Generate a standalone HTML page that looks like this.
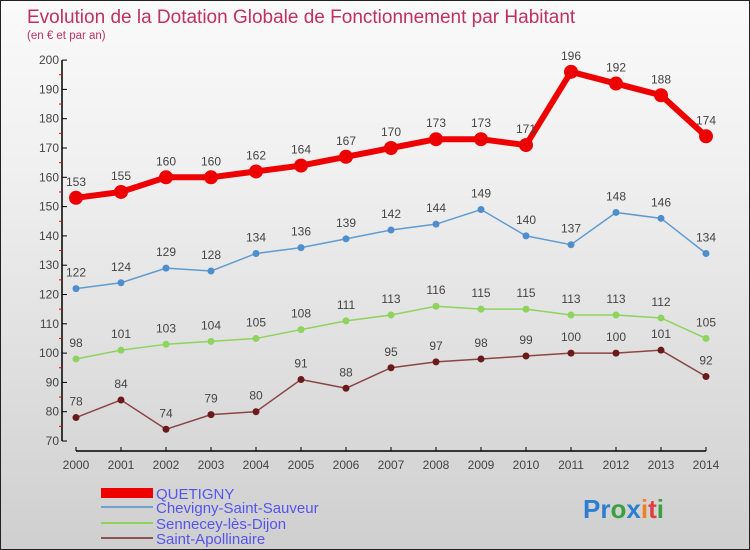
<!DOCTYPE html>
<html><head><meta charset="utf-8"><style>
html,body{margin:0;padding:0}
body{width:750px;height:550px;overflow:hidden;font-family:"Liberation Sans",sans-serif}
#wrap{position:relative;width:748px;height:548px;border:1px solid #222;background:linear-gradient(#fafafa,#f0f0f0 30%,#cfcfcf)}
</style></head><body>
<div id="wrap">
<svg id="c" width="748" height="548" style="position:absolute;left:0;top:0">
<text x="26" y="22" font-size="19" fill="#c03060">Evolution de la Dotation Globale de Fonctionnement par Habitant</text>
<text x="26" y="38" font-size="11.5" fill="#c03060">(en € et par an)</text>
<g id="axes"></g><g id="series"></g>
<g>
<rect x="100" y="487" width="52" height="10" fill="#e00"/>
<text x="155" y="498" font-size="15" fill="#5555ee">QUETIGNY</text>
<line x1="100" y1="506" x2="152" y2="506" stroke="#6fa3cf" stroke-width="2"/>
<text x="155" y="512" font-size="15" fill="#5555ee">Chevigny-Saint-Sauveur</text>
<line x1="100" y1="522" x2="152" y2="522" stroke="#8fd35f" stroke-width="2"/>
<text x="155" y="528" font-size="15" fill="#5555ee">Sennecey-lès-Dijon</text>
<line x1="100" y1="537" x2="152" y2="537" stroke="#8b5555" stroke-width="2"/>
<text x="155" y="543" font-size="15" fill="#5555ee">Saint-Apollinaire</text>
</g>
<text x="582" y="517" font-size="26" font-weight="bold"><tspan fill="#2a7fd0">Pr</tspan><tspan fill="#3aa040">o</tspan><tspan fill="#2a7fd0">x</tspan><tspan fill="#f08020">i</tspan><tspan fill="#e04040">t</tspan><tspan fill="#3aa040">i</tspan></text>
</svg>
</div>
<script>
const years=[2000,2001,2002,2003,2004,2005,2006,2007,2008,2009,2010,2011,2012,2013,2014];
const quetigny=[153,155,160,160,162,164,167,170,173,173,171,196,192,188,174];
const chevigny=[122,124,129,128,134,136,139,142,144,149,140,137,148,146,134];
const sennecey=[98,101,103,104,105,108,111,113,116,115,115,113,113,112,105];
const apollinaire=[78,84,74,79,80,91,88,95,97,98,99,100,100,101,92];
const yTicks=[70,80,90,100,110,120,130,140,150,160,170,180,190,200];
const NS="http://www.w3.org/2000/svg";
const x=i=>75+i*45;
const y=v=>440-(v-70)*2.93;
function mk(t,a,p){const e=document.createElementNS(NS,t);for(const k in a)e.setAttribute(k,a[k]);p.appendChild(e);return e;}
const ax=document.getElementById('axes');
let yl=mk('line',{x1:61,y1:y(200),x2:61,y2:440,stroke:'#000','stroke-width':1.5},ax);


let xl=mk('line',{x1:75,y1:450,x2:705,y2:450,stroke:'#000','stroke-width':1.5},ax);


yTicks.forEach(v=>{
  mk('line',{x1:61,y1:y(v),x2:66,y2:y(v),stroke:'#000'},ax);
  if(v<200)mk('line',{x1:58,y1:y(v+5),x2:61,y2:y(v+5),stroke:'#e00'},ax);
  const t=mk('text',{x:58,y:y(v)+4,'font-size':12,fill:'#444','text-anchor':'end'},ax);
  t.textContent=v;
  
  
});
years.forEach((yr,i)=>{
  mk('line',{x1:x(i),y1:446,x2:x(i),y2:450,stroke:'#000'},ax);
  const t=mk('text',{x:x(i),y:468,'font-size':12,fill:'#444','text-anchor':'middle'},ax);
  t.textContent=yr;
  
  
});
const sg=document.getElementById('series');
function series(data,name,color,lw,r,dot){
  const g=mk('g',{},sg);
  
  
  const p=mk('polyline',{points:data.map((v,i)=>x(i)+','+y(v)).join(' '),fill:'none',stroke:color,'stroke-width':lw,'stroke-linejoin':'round'},g);
  
  
  data.forEach((v,i)=>{
    const c=mk('circle',{cx:x(i),cy:y(v),r:r,fill:dot},g);
    
    
    const t=mk('text',{x:x(i),y:y(v)-12,'font-size':12,fill:'#444','text-anchor':'middle'},g);
    t.textContent=v;
    
    
  });
}
series(apollinaire,'saint-apollinaire','#8b4545',1.5,3.5,'#6a1a1a');
series(sennecey,'sennecey','#8fd35f',1.5,3.5,'#8fd35f');
series(chevigny,'chevigny','#5f9bd0',1.5,3.5,'#4f8ecc');
series(quetigny,'quetigny','#e00',6,7,'#e00');
</script>
</body></html>
